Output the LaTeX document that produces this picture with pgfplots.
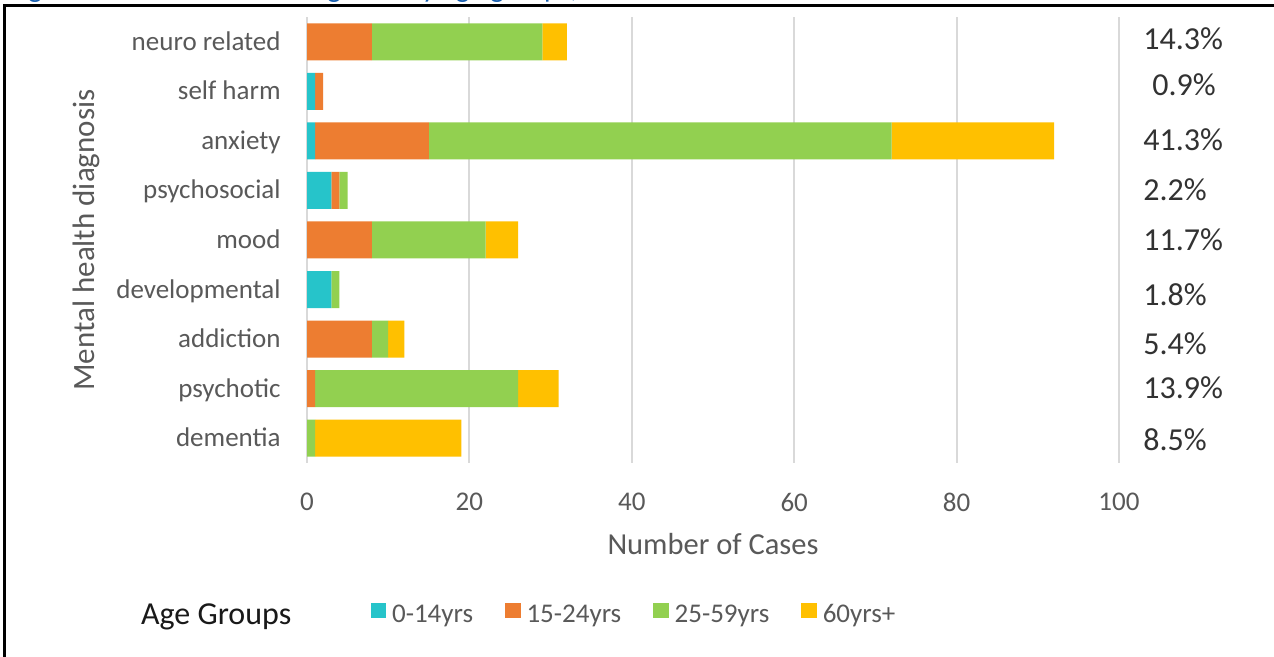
\documentclass[border=0pt]{standalone}
\usepackage{fontspec}
\setmainfont{Carlito}
\usepackage{pgfplots}
\usepackage{pgfplotstable}
\pgfplotsset{compat=1.18}
\definecolor{cteal}{RGB}{38,196,202}
\definecolor{corange}{RGB}{237,125,49}
\definecolor{cgreen}{RGB}{146,208,80}
\definecolor{cgold}{RGB}{255,192,0}
\definecolor{gridgray}{RGB}{217,217,217}
\definecolor{labelgray}{RGB}{89,89,89}
\definecolor{pctgray}{RGB}{50,50,50}
\definecolor{capblue}{RGB}{23,94,175}
\tikzset{pct/.style={anchor=west, inner sep=0pt, text=pctgray, font=\fontsize{16}{19}\selectfont}}

\pgfplotstableread{
y teal orange green gold
0 0 0 1 18
1 0 1 25 5
2 0 8 2 2
3 3 0 1 0
4 0 8 14 4
5 3 1 1 0
6 1 14 57 20
7 1 1 0 0
8 0 8 21 3
}\datatable

\begin{document}
\begin{tikzpicture}[x=1pt,y=1pt]
\useasboundingbox (0,0) rectangle (637,328.5);
\fill[white] (0,0) rectangle (637,328.5);
\node[anchor=base west, inner sep=0pt, text=capblue, font=\fontsize{14.5}{17}\selectfont] at (4,329.5) {Figure 3: Mental health diagnosis by age groups, 2019};
\draw[line width=1.25pt] (2.25,-2) -- (2.25,325.75) -- (640,325.75);
\begin{axis}[
  scale only axis, width=406pt, height=223pt,
  at={(153.5pt,97pt)}, anchor=south west,
  xbar stacked, bar width=18.5pt,
  xmin=0, xmax=100, ymin=-0.5, ymax=8.5,
  xtick={0,20,...,100}, ytick={0,...,8},
  yticklabels={dementia,psychotic,addiction,developmental,mood,psychosocial,anxiety,self harm,neuro related},
  xmajorgrids, ymajorgrids=false,
  grid style={color=gridgray, line width=1pt},
  axis line style={draw=none},
  major tick length=0pt,
  /pgf/number format/assume math mode=true,
  tick label style={text=labelgray, font=\fontsize{13.5}{16}\selectfont},
  xticklabel style={anchor=north, inner sep=0pt, yshift=-15pt},
  yticklabel style={anchor=base east, inner sep=0pt, xshift=-13pt, yshift=-4.25pt},
  xlabel={Number of Cases},
  xlabel style={at={(axis description cs:0.5,0)}, anchor=base, yshift=-46pt, inner sep=0pt, text=labelgray, font=\fontsize{15.25}{18}\selectfont},
  ylabel={Mental health diagnosis},
  ylabel style={at={(axis description cs:-0.2611,0.5)}, anchor=base, inner sep=0pt, text=labelgray, font=\fontsize{15.5}{18}\selectfont},
  legend style={at={(axis description cs:0.0784,-0.3408)}, anchor=west, draw=none, fill=none,
    inner sep=0pt, outer sep=0pt, text=labelgray, font=\fontsize{13.5}{16}\selectfont,
    /tikz/every odd column/.append style={column sep=1pt},
    /tikz/every even column/.append style={column sep=14pt}},
  legend columns=4,
  legend cell align=left,
  clip=false,
]
\addplot[fill=cteal, draw=none, legend image code/.code={\fill[cteal] (0pt,-1.7pt) rectangle (7.7pt,6pt);}] table[x=teal, y=y] {\datatable};
\addplot[fill=corange, draw=none, legend image code/.code={\fill[corange] (0pt,-1.7pt) rectangle (7.7pt,6pt);}] table[x=orange, y=y] {\datatable};
\addplot[fill=cgreen, draw=none, legend image code/.code={\fill[cgreen] (0pt,-1.7pt) rectangle (7.7pt,6pt);}] table[x=green, y=y] {\datatable};
\addplot[fill=cgold, draw=none, legend image code/.code={\fill[cgold] (0pt,-1.7pt) rectangle (7.7pt,6pt);}] table[x=gold, y=y] {\datatable};
\legend{0-14yrs,15-24yrs,25-59yrs,60yrs+}
\node[pct] at (axis cs:102.96,8.055) {14.3\%};
\node[pct] at (axis cs:104.07,7.127) {0.9\%};
\node[pct] at (axis cs:102.96,6.017) {41.3\%};
\node[pct] at (axis cs:102.96,5.008) {2.2\%};
\node[pct] at (axis cs:102.96,4.0) {11.7\%};
\node[pct] at (axis cs:102.96,2.890) {1.8\%};
\node[pct] at (axis cs:102.96,1.901) {5.4\%};
\node[pct] at (axis cs:102.96,1.013) {13.9\%};
\node[pct] at (axis cs:102.96,-0.036) {8.5\%};
\end{axis}
\node[anchor=base west, inner sep=0pt, text=black!90, font=\fontsize{16}{19}\selectfont] at (70.35,16) {Age Groups};
\end{tikzpicture}
\end{document}
